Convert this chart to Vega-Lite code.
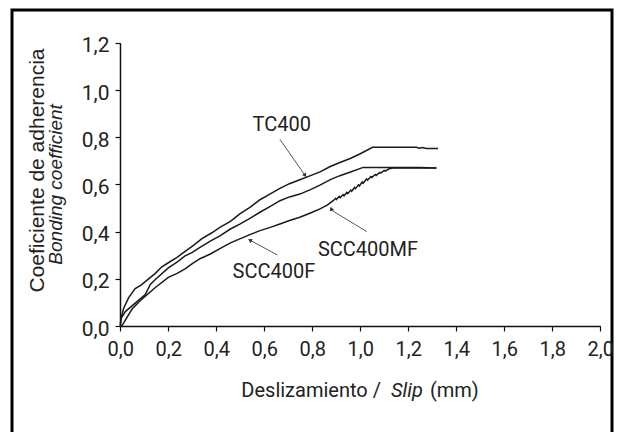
{
  "$schema": "https://vega.github.io/schema/vega-lite/v6.json",
  "autosize": {"type": "none"},
  "width": 600,
  "height": 430,
  "padding": {"left": 12, "top": 10, "right": 7, "bottom": -8},
  "background": "white",
  "config": {"view": {"stroke": "#000000", "strokeWidth": 3}, "font": "Roboto"},
  "datasets": {
    "curves": [
      {"series": "TC400", "x": 0.0, "y": 0.0},
      {"series": "TC400", "x": 0.003, "y": 0.03},
      {"series": "TC400", "x": 0.014, "y": 0.075},
      {"series": "TC400", "x": 0.035, "y": 0.12},
      {"series": "TC400", "x": 0.062, "y": 0.159},
      {"series": "TC400", "x": 0.085, "y": 0.172},
      {"series": "TC400", "x": 0.104, "y": 0.188},
      {"series": "TC400", "x": 0.146, "y": 0.223},
      {"series": "TC400", "x": 0.172, "y": 0.25},
      {"series": "TC400", "x": 0.2, "y": 0.268},
      {"series": "TC400", "x": 0.235, "y": 0.29},
      {"series": "TC400", "x": 0.27, "y": 0.316},
      {"series": "TC400", "x": 0.305, "y": 0.342},
      {"series": "TC400", "x": 0.34, "y": 0.37},
      {"series": "TC400", "x": 0.38, "y": 0.394},
      {"series": "TC400", "x": 0.415, "y": 0.418},
      {"series": "TC400", "x": 0.459, "y": 0.443},
      {"series": "TC400", "x": 0.498, "y": 0.475},
      {"series": "TC400", "x": 0.54, "y": 0.503},
      {"series": "TC400", "x": 0.582, "y": 0.535},
      {"series": "TC400", "x": 0.625, "y": 0.56},
      {"series": "TC400", "x": 0.665, "y": 0.583},
      {"series": "TC400", "x": 0.705, "y": 0.603},
      {"series": "TC400", "x": 0.748, "y": 0.62},
      {"series": "TC400", "x": 0.79, "y": 0.636},
      {"series": "TC400", "x": 0.832, "y": 0.653},
      {"series": "TC400", "x": 0.875, "y": 0.676},
      {"series": "TC400", "x": 0.915, "y": 0.693},
      {"series": "TC400", "x": 0.958, "y": 0.71},
      {"series": "TC400", "x": 0.998, "y": 0.729},
      {"series": "TC400", "x": 1.051, "y": 0.757},
      {"series": "TC400", "x": 1.234, "y": 0.757},
      {"series": "TC400", "x": 1.245, "y": 0.753},
      {"series": "TC400", "x": 1.258, "y": 0.756},
      {"series": "TC400", "x": 1.276, "y": 0.752},
      {"series": "TC400", "x": 1.324, "y": 0.752},
      {"series": "SCC400F", "x": 0.0, "y": 0.01},
      {"series": "SCC400F", "x": 0.004, "y": 0.033},
      {"series": "SCC400F", "x": 0.021, "y": 0.061},
      {"series": "SCC400F", "x": 0.062, "y": 0.097},
      {"series": "SCC400F", "x": 0.104, "y": 0.133},
      {"series": "SCC400F", "x": 0.125, "y": 0.176},
      {"series": "SCC400F", "x": 0.146, "y": 0.197},
      {"series": "SCC400F", "x": 0.2, "y": 0.246},
      {"series": "SCC400F", "x": 0.235, "y": 0.27},
      {"series": "SCC400F", "x": 0.27, "y": 0.297},
      {"series": "SCC400F", "x": 0.3, "y": 0.312},
      {"series": "SCC400F", "x": 0.332, "y": 0.333},
      {"series": "SCC400F", "x": 0.375, "y": 0.36},
      {"series": "SCC400F", "x": 0.415, "y": 0.382},
      {"series": "SCC400F", "x": 0.459, "y": 0.411},
      {"series": "SCC400F", "x": 0.498, "y": 0.432},
      {"series": "SCC400F", "x": 0.54, "y": 0.456},
      {"series": "SCC400F", "x": 0.582, "y": 0.482},
      {"series": "SCC400F", "x": 0.625, "y": 0.507},
      {"series": "SCC400F", "x": 0.665, "y": 0.531},
      {"series": "SCC400F", "x": 0.705, "y": 0.547},
      {"series": "SCC400F", "x": 0.748, "y": 0.559},
      {"series": "SCC400F", "x": 0.79, "y": 0.577},
      {"series": "SCC400F", "x": 0.832, "y": 0.597},
      {"series": "SCC400F", "x": 0.875, "y": 0.62},
      {"series": "SCC400F", "x": 0.915, "y": 0.637},
      {"series": "SCC400F", "x": 0.965, "y": 0.655},
      {"series": "SCC400F", "x": 1.012, "y": 0.672},
      {"series": "SCC400F", "x": 1.248, "y": 0.672},
      {"series": "SCC400F", "x": 1.317, "y": 0.669},
      {"series": "SCC400MF", "x": 0.004, "y": 0.0},
      {"series": "SCC400MF", "x": 0.01, "y": 0.006},
      {"series": "SCC400MF", "x": 0.021, "y": 0.025},
      {"series": "SCC400MF", "x": 0.049, "y": 0.072},
      {"series": "SCC400MF", "x": 0.09, "y": 0.114},
      {"series": "SCC400MF", "x": 0.146, "y": 0.163},
      {"series": "SCC400MF", "x": 0.2, "y": 0.206},
      {"series": "SCC400MF", "x": 0.235, "y": 0.222},
      {"series": "SCC400MF", "x": 0.27, "y": 0.242},
      {"series": "SCC400MF", "x": 0.3, "y": 0.264},
      {"series": "SCC400MF", "x": 0.332, "y": 0.285},
      {"series": "SCC400MF", "x": 0.375, "y": 0.305},
      {"series": "SCC400MF", "x": 0.415, "y": 0.328},
      {"series": "SCC400MF", "x": 0.459, "y": 0.352},
      {"series": "SCC400MF", "x": 0.498, "y": 0.369},
      {"series": "SCC400MF", "x": 0.54, "y": 0.387},
      {"series": "SCC400MF", "x": 0.582, "y": 0.404},
      {"series": "SCC400MF", "x": 0.625, "y": 0.418},
      {"series": "SCC400MF", "x": 0.665, "y": 0.432},
      {"series": "SCC400MF", "x": 0.705, "y": 0.447},
      {"series": "SCC400MF", "x": 0.748, "y": 0.461},
      {"series": "SCC400MF", "x": 0.79, "y": 0.478},
      {"series": "SCC400MF", "x": 0.832, "y": 0.496},
      {"series": "SCC400MF", "x": 0.862, "y": 0.512},
      {"series": "SCC400MF", "x": 0.887, "y": 0.531},
      {"series": "SCC400MF", "x": 0.897, "y": 0.541},
      {"series": "SCC400MF", "x": 0.9, "y": 0.536},
      {"series": "SCC400MF", "x": 0.912, "y": 0.549},
      {"series": "SCC400MF", "x": 0.916, "y": 0.544},
      {"series": "SCC400MF", "x": 0.928, "y": 0.557},
      {"series": "SCC400MF", "x": 0.932, "y": 0.552},
      {"series": "SCC400MF", "x": 0.944, "y": 0.566},
      {"series": "SCC400MF", "x": 0.948, "y": 0.561},
      {"series": "SCC400MF", "x": 0.96, "y": 0.576},
      {"series": "SCC400MF", "x": 0.964, "y": 0.571},
      {"series": "SCC400MF", "x": 0.976, "y": 0.587},
      {"series": "SCC400MF", "x": 0.98, "y": 0.582},
      {"series": "SCC400MF", "x": 0.992, "y": 0.598},
      {"series": "SCC400MF", "x": 0.996, "y": 0.593},
      {"series": "SCC400MF", "x": 1.008, "y": 0.61},
      {"series": "SCC400MF", "x": 1.012, "y": 0.605},
      {"series": "SCC400MF", "x": 1.026, "y": 0.623},
      {"series": "SCC400MF", "x": 1.03, "y": 0.618},
      {"series": "SCC400MF", "x": 1.044, "y": 0.633},
      {"series": "SCC400MF", "x": 1.048, "y": 0.629},
      {"series": "SCC400MF", "x": 1.062, "y": 0.642},
      {"series": "SCC400MF", "x": 1.066, "y": 0.638},
      {"series": "SCC400MF", "x": 1.081, "y": 0.651},
      {"series": "SCC400MF", "x": 1.085, "y": 0.648},
      {"series": "SCC400MF", "x": 1.1, "y": 0.659},
      {"series": "SCC400MF", "x": 1.104, "y": 0.656},
      {"series": "SCC400MF", "x": 1.12, "y": 0.666},
      {"series": "SCC400MF", "x": 1.137, "y": 0.669},
      {"series": "SCC400MF", "x": 1.317, "y": 0.669}
    ],
    "arrows": [
      {"label": "TC400", "x": 0.665, "y": 0.791, "x2": 0.77, "y2": 0.638},
      {"label": "SCC400MF", "x": 1.027, "y": 0.4, "x2": 0.878, "y2": 0.492},
      {"label": "SCC400F", "x": 0.654, "y": 0.301, "x2": 0.54, "y2": 0.364}
    ],
    "labels": [
      {"label": "TC400", "x": 0.6725, "y": 0.85},
      {"label": "SCC400MF", "x": 1.032, "y": 0.322},
      {"label": "SCC400F", "x": 0.64, "y": 0.23}
    ]
  },
  "layer": [
    {
      "data": {"name": "curves"},
      "mark": {"type": "line", "color": "#1a1a1a", "strokeWidth": 1.5},
      "encoding": {
        "x": {
          "field": "x", "type": "quantitative",
          "scale": {"domain": [0, 2], "range": [108.3, 588.3], "nice": false, "zero": false},
          "axis": {
            "orient": "bottom", "offset": -114,
            "values": [0, 0.2, 0.4, 0.6, 0.8, 1.0, 1.2, 1.4, 1.6, 1.8, 2.0],
            "labelExpr": "replace(format(datum.value, '.1f'), '.', ',')",
            "grid": false, "title": null,
            "domainColor": "#111111", "domainWidth": 1.5,
            "tickColor": "#111111", "tickWidth": 1.2, "tickSize": 5,
            "labelFont": "Roboto", "labelFontSize": 20, "labelColor": "#222222",
            "labelPadding": 8, "labelFlush": false, "labelOverlap": false
          }
        },
        "y": {
          "field": "y", "type": "quantitative",
          "scale": {"domain": [0, 1.2], "range": [316, 32.8], "nice": false, "zero": false},
          "axis": {
            "orient": "left", "offset": -108,
            "values": [0, 0.2, 0.4, 0.6, 0.8, 1.0, 1.2],
            "labelExpr": "replace(format(datum.value, '.1f'), '.', ',')",
            "grid": false,
            "domainColor": "#111111", "domainWidth": 1.5,
            "tickColor": "#111111", "tickWidth": 1.2, "tickSize": 5,
            "labelFont": "Roboto", "labelFontSize": 21, "labelColor": "#222222",
            "labelPadding": 6, "labelOffset": 3, "labelOverlap": false,
            "title": "Coeficiente de adherencia",
            "titleFont": "Liberation Sans", "titleFontSize": 21, "titleFontWeight": "normal",
            "titleColor": "#222222", "titleX": -77, "titleY": 160,
            "titleAngle": 270, "titleAlign": "center", "titleBaseline": "alphabetic"
          }
        },
        "detail": {"field": "series"}
      }
    },
    {
      "data": {"name": "arrows"},
      "mark": {"type": "rule", "color": "#444444", "strokeWidth": 0.9},
      "encoding": {
        "x": {"field": "x", "type": "quantitative"},
        "y": {"field": "y", "type": "quantitative"},
        "x2": {"field": "x2"},
        "y2": {"field": "y2"}
      }
    },
    {
      "data": {"name": "arrows"},
      "mark": {"type": "point", "shape": "triangle-up", "filled": true, "size": 22, "color": "#333333", "opacity": 1},
      "encoding": {
        "x": {"field": "x2", "type": "quantitative"},
        "y": {"field": "y2", "type": "quantitative"},
        "angle": {"field": "label", "type": "nominal", "scale": {"domain": ["TC400", "SCC400MF", "SCC400F"], "range": [145, 301, 299]}, "legend": null}
      }
    },
    {
      "data": {"name": "labels"},
      "mark": {"type": "text", "font": "Roboto", "fontSize": 20, "color": "#222222", "align": "center", "baseline": "middle"},
      "encoding": {
        "x": {"field": "x", "type": "quantitative"},
        "y": {"field": "y", "type": "quantitative"},
        "text": {"field": "label"}
      }
    },
    {
      "data": {"values": [{"t": "Deslizamiento /", "x": 1.086, "y": -0.3}]},
      "mark": {"type": "text", "font": "Roboto", "fontSize": 20, "color": "#222222", "align": "right", "baseline": "alphabetic", "clip": false},
      "encoding": {
        "x": {"field": "x", "type": "quantitative"},
        "y": {"field": "y", "type": "quantitative"},
        "text": {"field": "t"}
      }
    },
    {
      "data": {"values": [{"t": "Slip", "x": 1.128, "y": -0.3}]},
      "mark": {"type": "text", "font": "Roboto", "fontSize": 20, "fontStyle": "italic", "color": "#222222", "align": "left", "baseline": "alphabetic", "clip": false},
      "encoding": {
        "x": {"field": "x", "type": "quantitative"},
        "y": {"field": "y", "type": "quantitative"},
        "text": {"field": "t"}
      }
    },
    {
      "data": {"values": [{"t": "(mm)", "x": 1.29, "y": -0.3}]},
      "mark": {"type": "text", "font": "Roboto", "fontSize": 20, "color": "#222222", "align": "left", "baseline": "alphabetic", "clip": false},
      "encoding": {
        "x": {"field": "x", "type": "quantitative"},
        "y": {"field": "y", "type": "quantitative"},
        "text": {"field": "t"}
      }
    },
    {
      "data": {"values": [{"t": "Bonding coefficient", "x": -0.245, "y": 0.6}]},
      "mark": {"type": "text", "font": "Liberation Sans", "fontSize": 19, "fontStyle": "italic", "color": "#222222", "align": "center", "baseline": "alphabetic", "angle": 270, "clip": false},
      "encoding": {
        "x": {"field": "x", "type": "quantitative"},
        "y": {"field": "y", "type": "quantitative"},
        "text": {"field": "t"}
      }
    }
  ]
}
